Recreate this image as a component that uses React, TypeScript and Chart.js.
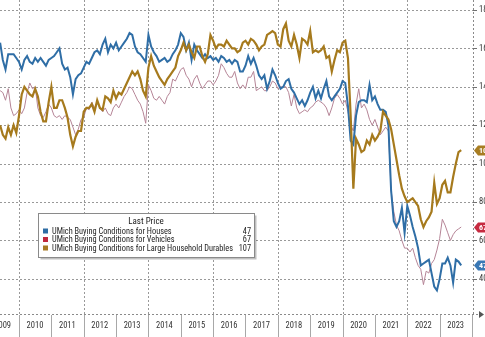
import React, { useEffect, useRef } from "react";
import { Chart, registerables } from "chart.js";

Chart.register(...registerables);

// Monthly data, first point June 2009
const START_YEAR = 2009;
const START_MONTH = 6;

const housesValues = [
  163, 154, 149, 157, 157, 157, 155, 153, 149, 154,
  156, 153, 152, 155, 153, 155, 153, 151, 154, 155,
  156, 158, 160, 152, 149, 150, 145, 136, 144, 146,
  147, 150, 153, 152, 155, 158, 159, 157, 162, 165,
  158, 162, 160, 163, 159, 161, 163, 165, 168, 167,
  161, 158, 157, 155, 153, 167, 161, 158, 156, 153,
  154, 155, 153, 154, 157, 159, 162, 168, 166, 159,
  163, 154, 162, 159, 157, 155, 157, 155, 156, 154,
  155, 153, 156, 155, 153, 154, 152, 154, 153, 148,
  148, 151, 156, 152, 155, 151, 146, 144, 146, 139,
  143, 149, 146, 142, 139, 140, 143, 144, 139, 137,
  134, 131, 133, 130, 133, 137, 140, 134, 138, 134,
  139, 143, 135, 133, 135, 137, 139, 143, 142, 130,
  112, 110, 125, 132, 133, 133, 132, 141, 133, 135,
  131, 128, 128, 127, 120, 86, 70, 67, 70, 77,
  64, 78, 73, 67, 62, 56, 47, 48, 49, 50,
  43, 36, 34, 40, 48, 48, 51, 47, 38, 50,
  49, 47,
];

const vehiclesValues = [
  138, 137, 133, 139, 129, 125, 126, 128, 126, 129,
  137, 142, 139, 140, 129, 125, 124, 127, 131, 129,
  125, 124, 125, 123, 125, 124, 123, 119, 115, 118,
  123, 124, 129, 128, 132, 129, 132, 129, 127, 129,
  126, 125, 129, 131, 129, 132, 135, 137, 140, 139,
  136, 133, 131, 127, 121, 141, 138, 134, 133, 135,
  133, 131, 135, 137, 144, 143, 146, 149, 150, 146,
  144, 140, 144, 146, 142, 139, 141, 143, 143, 141,
  143, 146, 152, 150, 147, 145, 145, 148, 142, 139,
  141, 139, 145, 145, 148, 138, 139, 140, 138, 138,
  140, 143, 142, 139, 140, 140, 140, 137, 130, 136,
  129, 126, 127, 128, 127, 129, 130, 132, 133, 132,
  131, 129, 125, 129, 134, 136, 134, 131, 133, 127,
  120, 117, 131, 139, 129, 131, 128, 123, 120, 123,
  119, 115, 117, 119, 117, 86, 75, 68, 65, 60,
  56, 56, 54, 56, 51, 47, 45, 37, 44, 43,
  48, 50, 55, 61, 71, 68, 64, 60, 63, 65,
  66, 67,
];

const durablesValues = [
  120, 115, 113, 119, 115, 120, 116, 125, 136, 140,
  138, 136, 135, 139, 135, 127, 122, 122, 132, 140,
  129, 129, 133, 133, 129, 124, 115, 109, 114, 117,
  117, 127, 129, 129, 131, 127, 133, 129, 128, 135,
  134, 132, 138, 134, 137, 136, 139, 142, 145, 148,
  146, 148, 144, 138, 135, 150, 156, 151, 148, 145,
  143, 141, 144, 146, 148, 150, 156, 159, 163, 159,
  162, 158, 155, 161, 161, 156, 153, 157, 167, 164,
  160, 162, 162, 161, 164, 162, 160, 160, 158, 159,
  163, 164, 162, 165, 164, 162, 159, 161, 162, 167,
  168, 169, 168, 162, 161, 170, 173, 164, 161, 167,
  162, 155, 165, 164, 162, 169, 158, 159, 158, 159,
  161, 155, 156, 148, 154, 159, 158, 163, 164, 155,
  125, 87, 113, 110, 106, 107, 112, 110, 115, 112,
  114, 117, 127, 125, 123, 118, 110, 102, 94, 87,
  83, 80, 81, 82, 80, 78, 71, 67, 70, 72,
  75, 90, 79, 82, 89, 91, 85, 85, 93, 100,
  106, 107,
];

const yearLabels = [
  "2009", "2010", "2011", "2012", "2013", "2014", "2015", "2016",
  "2017", "2018", "2019", "2020", "2021", "2022", "2023",
];
const yTickValues = [40, 60, 80, 100, 120, 140, 160, 180];
const seriesNames = [
  "UMich Buying Conditions for Houses",
  "UMich Buying Conditions for Vehicles",
  "UMich Buying Conditions for Large Household Durables",
];
const legendTitle = "Last Price";

const FONT = "'Liberation Sans Narrow', 'Roboto Condensed', Roboto, 'Liberation Sans', sans-serif";
const X_MIN = 2009.4128;
const X_MAX = 2024.031;
const Y_MIN = 21.7;
const Y_MAX = 185.2;

const lineColors = ["#2f6ea6", "#b58496", "#a67a1d"];
const keyColors = ["#2e6da4", "#c0283c", "#a87a25"];
const badgeColors = ["#3a78b5", "#c62a40", "#a87d22"];
const lineWidths = [2, 1, 2.2];
const seriesArrays = [housesValues, vehiclesValues, durablesValues];

function monthToYear(i: number): number {
  return START_YEAR + (START_MONTH - 1 + i) / 12;
}

const gridPlugin = {
  id: "dottedGrid",
  afterDatasetsDraw(chart: any) {
    const a = chart.chartArea;
    const ctx = chart.ctx;
    const xs = chart.scales.x;
    const ys = chart.scales.y;
    ctx.save();
    // plot-area grid drawn behind the already drawn lines
    ctx.globalCompositeOperation = "destination-over";
    ctx.lineWidth = 1;
    ctx.strokeStyle = "#999999";
    ctx.setLineDash([2, 2]);
    for (const v of yTickValues) {
      const py = Math.round(ys.getPixelForValue(v)) + 0.5;
      ctx.beginPath();
      ctx.moveTo(a.left, py);
      ctx.lineTo(a.right, py);
      ctx.stroke();
    }
    for (let yr = 2010; yr <= 2022; yr += 2) {
      const px = Math.round(xs.getPixelForValue(yr)) + 0.5;
      ctx.beginPath();
      ctx.moveTo(px, a.top);
      ctx.lineTo(px, a.bottom);
      ctx.stroke();
    }
    ctx.globalCompositeOperation = "source-over";
    const by = Math.round(a.bottom) + 0.5;
    const rx = Math.round(a.right) + 0.5;
    ctx.strokeStyle = "#8a8a8a";
    ctx.beginPath();
    ctx.moveTo(a.left, by);
    ctx.lineTo(a.right + 8, by);
    ctx.stroke();
    ctx.beginPath();
    ctx.moveTo(rx, a.top);
    ctx.lineTo(rx, a.bottom);
    ctx.stroke();
    ctx.setLineDash([]);
    ctx.strokeStyle = "#a8a8a8";
    for (let yr = 2010; yr <= 2024; yr++) {
      const px = Math.round(xs.getPixelForValue(yr)) + 0.5;
      ctx.beginPath();
      ctx.moveTo(px, a.bottom + 1);
      ctx.lineTo(px, chart.height);
      ctx.stroke();
    }
    ctx.strokeStyle = "#707070";
    for (const v of yTickValues) {
      const py = Math.round(ys.getPixelForValue(v)) + 0.5;
      ctx.beginPath();
      ctx.moveTo(a.right, py);
      ctx.lineTo(a.right + 4, py);
      ctx.stroke();
    }
    ctx.restore();
  },
};

const overlayPlugin = {
  id: "overlay",
  afterDraw(chart: any) {
    const { ctx, chartArea, scales } = chart;
    const yScale = scales.y;
    ctx.save();
    // last value badges
    seriesArrays.forEach((arr, k) => {
      const v = arr[arr.length - 1];
      const py = Math.round(yScale.getPixelForValue(v)) + 0.5;
      const x0 = chartArea.right + 1;
      ctx.fillStyle = badgeColors[k];
      ctx.beginPath();
      ctx.moveTo(x0, py);
      ctx.lineTo(x0 + 4, py - 5);
      ctx.lineTo(x0 + 40, py - 5);
      ctx.lineTo(x0 + 40, py + 5);
      ctx.lineTo(x0 + 4, py + 5);
      ctx.closePath();
      ctx.fill();
      ctx.fillStyle = "#ffffff";
      ctx.font = `bold 8px ${FONT}`;
      ctx.textBaseline = "middle";
      ctx.textAlign = "left";
      ctx.fillText(String(v), x0 + 5, py + 0.5);
    });

    // legend box
    const bx = 38.5, by = 213.5, bw = 216, bh = 44;
    ctx.fillStyle = "rgba(0,0,0,0.25)";
    ctx.fillRect(bx + 2, by + 2, bw, bh);
    ctx.fillStyle = "#ffffff";
    ctx.fillRect(bx, by, bw, bh);
    ctx.strokeStyle = "#8a8a8a";
    ctx.lineWidth = 1;
    ctx.strokeRect(bx, by, bw, bh);

    ctx.fillStyle = "#222222";
    ctx.font = `9px ${FONT}`;
    ctx.textAlign = "center";
    ctx.textBaseline = "middle";
    ctx.fillText(legendTitle, 146, 222);

    seriesNames.forEach((name, k) => {
      const ry = 231 + k * 8.5;
      ctx.fillStyle = keyColors[k];
      ctx.fillRect(43, ry - 2.5, 5, 5);
      ctx.fillStyle = "#222222";
      ctx.textAlign = "left";
      ctx.font = `8.3px ${FONT}`;
      ctx.fillText(name, 52, ry + 0.5);
      ctx.textAlign = "right";
      const arr = seriesArrays[k];
      ctx.fillText(String(arr[arr.length - 1]), 251, ry + 0.5);
    });

    // small arrow at the end of the x axis
    const ay = Math.round(chartArea.bottom) + 0.5;
    ctx.fillStyle = "#555555";
    ctx.beginPath();
    ctx.moveTo(chart.width - 1, ay);
    ctx.lineTo(chart.width - 6, ay - 3.5);
    ctx.lineTo(chart.width - 6, ay + 3.5);
    ctx.closePath();
    ctx.fill();
    ctx.restore();
  },
};

export default function App() {
  const canvasRef = useRef<HTMLCanvasElement | null>(null);

  useEffect(() => {
    const canvas = canvasRef.current;
    if (!canvas) return;
    const datasets = seriesArrays.map((arr, k) => ({
      label: seriesNames[k],
      data: arr.map((v, i) => ({ x: monthToYear(i), y: v })),
      borderColor: lineColors[k],
      borderWidth: lineWidths[k],
      pointRadius: 0,
      tension: 0,
      order: k === 2 ? 0 : k === 0 ? 1 : 2,
    }));

    const yearTicks: number[] = [];
    for (let y = 2009; y <= 2024; y++) yearTicks.push(y);

    const chart = new Chart(canvas, {
      type: "line",
      data: { datasets },
      plugins: [gridPlugin, overlayPlugin],
      options: {
        animation: false,
        responsive: false,
        devicePixelRatio: 1,
        plugins: { legend: { display: false }, tooltip: { enabled: false } },
        scales: {
          x: {
            type: "linear",
            min: X_MIN,
            max: X_MAX,
            afterBuildTicks: (s: any) => {
              s.ticks = yearTicks.map((v) => ({ value: v }));
            },
            afterFit: (s: any) => {
              s.height = 23;
              s.paddingLeft = 0;
              s.paddingRight = 0;
            },
            ticks: {
              autoSkip: false,
              maxRotation: 0,
              minRotation: 0,
              labelOffset: 16,
              padding: 7,
              color: "#333333",
              font: { family: FONT, size: 8.5 },
              callback: (v: any) => {
                const idx = yearLabels.indexOf(String(v));
                return idx >= 0 ? yearLabels[idx] : "";
              },
            },
            grid: { display: false, drawTicks: false },
            border: { display: false },
          },
          y: {
            type: "linear",
            position: "right",
            min: Y_MIN,
            max: Y_MAX,
            afterBuildTicks: (s: any) => {
              s.ticks = yTickValues.map((v) => ({ value: v }));
            },
            afterFit: (s: any) => {
              s.width = 12;
              s.paddingTop = 0;
              s.paddingBottom = 0;
            },
            ticks: {
              padding: 6,
              color: "#333333",
              font: { family: FONT, size: 8.5 },
              callback: (v: any) => String(v),
            },
            grid: { display: false, drawTicks: false },
            border: { display: false },
          },
        },
      },
    });
    return () => chart.destroy();
  }, []);

  return (
    <div style={{ position: "absolute", left: 0, top: 0, width: 485, height: 337, background: "#fff" }}>
      <canvas ref={canvasRef} width={485} height={337} style={{ width: 485, height: 337, display: "block" }} />
    </div>
  );
}
